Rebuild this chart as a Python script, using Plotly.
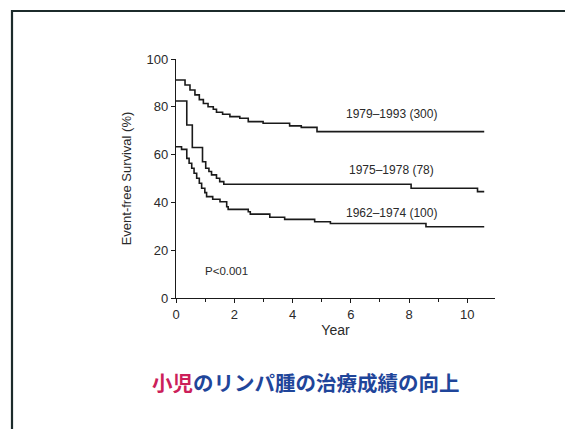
import plotly.graph_objects as go

# Kaplan-Meier style step data (years, % event-free survival)
t_1979 = [0, 0.31, 0.48, 0.65, 0.80, 0.94, 1.10, 1.28, 1.39, 1.60, 1.85, 2.19, 2.48, 2.99, 3.90, 4.30, 4.84, 10.58]
s_1979 = [91.2, 89.1, 87.0, 85.0, 83.0, 81.4, 80.0, 79.0, 77.7, 76.9, 75.9, 75.2, 73.8, 73.1, 72.0, 71.4, 69.6, 69.6]

t_1975 = [0, 0.37, 0.56, 0.91, 1.02, 1.13, 1.22, 1.39, 1.50, 1.64, 8.07, 10.35, 10.58]
s_1975 = [82.4, 72.4, 63.0, 57.0, 54.3, 52.9, 51.5, 50.1, 48.7, 47.6, 45.9, 44.5, 44.5]

t_1962 = [0, 0.19, 0.37, 0.45, 0.54, 0.62, 0.71, 0.80, 0.88, 0.99, 1.05, 1.26, 1.51, 1.74, 1.79, 2.48, 2.55, 3.22, 3.73, 4.76, 5.30, 8.58, 10.58]
s_1962 = [63.3, 62.2, 58.4, 56.4, 54.3, 52.2, 50.1, 48.0, 45.9, 44.1, 42.4, 41.3, 40.3, 38.2, 37.1, 36.1, 35.1, 33.8, 32.9, 31.9, 31.2, 29.8, 29.8]

series_labels = ["1979\u20131993 (300)", "1975\u20131978 (78)", "1962\u20131974 (100)"]
label_x = [7.38, 7.38, 7.40]
label_y = [77.0, 53.6, 35.4]

x_ticks = [0, 2, 4, 6, 8, 10]
y_ticks = [0, 20, 40, 60, 80, 100]

FONT = "Liberation Sans, Arial"
TXT = "#2a2a2a"

fig = go.Figure()
for t, s in [(t_1979, s_1979), (t_1975, s_1975), (t_1962, s_1962)]:
    fig.add_trace(go.Scatter(x=t, y=s, mode="lines", line=dict(color="#1a1a1a", width=1.6, shape="hv"),
                             showlegend=False, hoverinfo="skip"))

for lab, lx, ly in zip(series_labels, label_x, label_y):
    fig.add_annotation(x=lx, y=ly, text=lab, showarrow=False, xref="x", yref="y",
                       font=dict(family=FONT, size=12, color=TXT))

fig.add_annotation(x=1.74, y=11.4, text="P<0.001", showarrow=False, xref="x", yref="y",
                   font=dict(family=FONT, size=11.5, color=TXT))

# Japanese caption
fig.add_annotation(
    x=(306 - 176) / 319, y=(298 - 382) / 239, xref="paper", yref="paper",
    text="<b><span style='color:#cc1f5a'>小児</span><span style='color:#1f459a'>のリンパ腫の治療成績の向上</span></b>",
    showarrow=False, xanchor="center", yanchor="middle",
    font=dict(family="Noto Sans CJK JP", size=20.5))

# outer frame
fig.add_shape(type="rect", xref="paper", yref="paper",
              x0=(12 - 176) / 319, x1=2.0, y0=-2.0, y1=(298 - 11) / 239,
              line=dict(color="#1c2b2b", width=2.2), fillcolor="rgba(0,0,0,0)", layer="below")

fig.update_xaxes(range=[0, 10.95], tickvals=x_ticks, ticks="outside", ticklen=4, tickwidth=1,
                 showline=True, linecolor="#1a1a1a", linewidth=1.2, tickcolor="#1a1a1a",
                 showgrid=False, zeroline=False,
                 minor=dict(tickvals=[1, 3, 5, 7, 9], ticks="outside", ticklen=3, tickcolor="#1a1a1a"),
                 tickfont=dict(family=FONT, size=13, color=TXT),
                 title=dict(text="Year", font=dict(family=FONT, size=14, color=TXT), standoff=1))
fig.update_yaxes(range=[0, 100], tickvals=y_ticks, ticks="outside", ticklen=4, tickwidth=1,
                 showline=True, linecolor="#1a1a1a", linewidth=1.2, tickcolor="#1a1a1a",
                 showgrid=False, zeroline=False,
                 tickfont=dict(family=FONT, size=13, color=TXT),
                 title=dict(text="Event-free Survival (%)", font=dict(family=FONT, size=13, color=TXT), standoff=12))

fig.update_layout(width=565, height=429, margin=dict(l=176, r=70, t=59, b=131),
                  plot_bgcolor="white", paper_bgcolor="white")

fig.write_html("out.html")
